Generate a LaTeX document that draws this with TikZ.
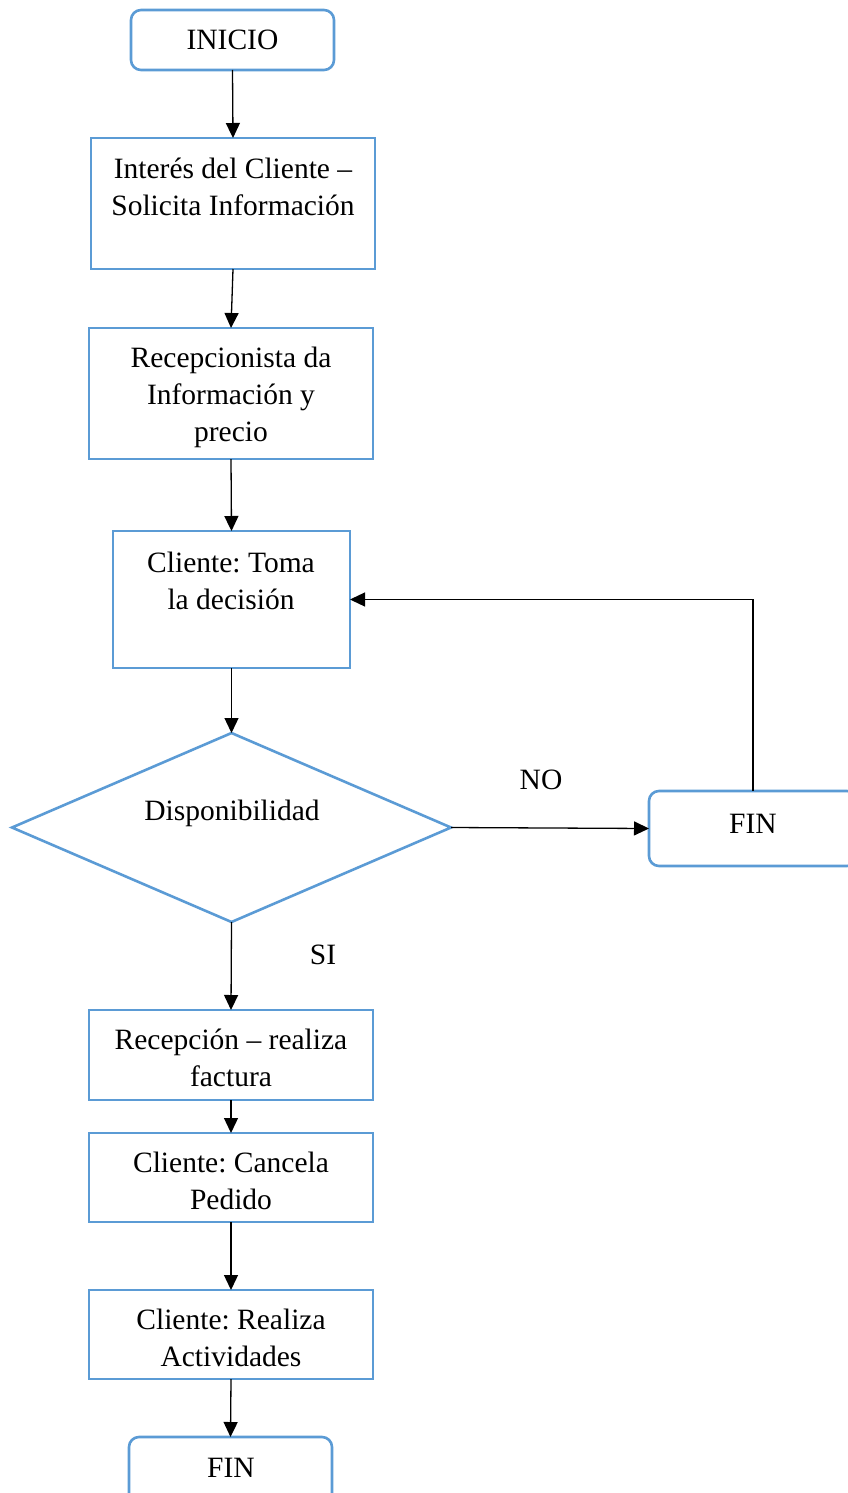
\documentclass[tikz,border=0pt]{standalone}
\usepackage{fontspec}
\setmainfont{Liberation Serif}
\usetikzlibrary{shapes.geometric,arrows.meta}
\definecolor{boxblue}{HTML}{5B9BD5}
\frenchspacing
\begin{document}
\begin{tikzpicture}[x=1pt,y=-1pt,
  every node/.style={inner sep=0pt, outer sep=0pt},
  stepbox/.style={draw=boxblue, line width=2.6pt, rectangle, fill=white},
  termbox/.style={stepbox, rounded corners=10pt},
  decbox/.style={draw=boxblue, line width=2.6pt, diamond, aspect=2.32},
  txt/.style={font=\fontsize{29.5pt}{37pt}\selectfont, align=center, anchor=north},
  arr/.style={line width=1.3pt, -{Triangle[length=15pt,width=14pt]}},
  lnk/.style={line width=1.3pt}]
\useasboundingbox (0,0) rectangle (848,1493);

% boxes
\node[termbox, minimum width=203pt, minimum height=60pt] (inicio) at (232.5,40) {};
\node[stepbox, minimum width=284pt, minimum height=131pt] (b2) at (233,203.5) {};
\node[stepbox, minimum width=284pt, minimum height=131pt] (b3) at (231,393.5) {};
\node[stepbox, minimum width=237pt, minimum height=137pt] (b4) at (231.5,599.5) {};
\node[decbox, minimum width=439pt, minimum height=189pt] (disp) at (231.5,827.5) {};
\node[termbox, minimum width=208pt, minimum height=75pt] (finr) at (753,828.5) {};
\node[stepbox, minimum width=284pt, minimum height=90pt] (b5) at (231,1055) {};
\node[stepbox, minimum width=284pt, minimum height=89pt] (b6) at (231,1177.5) {};
\node[stepbox, minimum width=284pt, minimum height=89pt] (b7) at (231,1334.5) {};
\node[termbox, minimum width=203pt, minimum height=80pt] (finb) at (230.5,1477) {};

% texts (first baseline minus strut height)
\node[txt] (t1) at (232.5,24.1) {\strut INICIO};
\node[txt] (t2) at (233,152.1) {\strut Interés del Cliente –\\Solicita Información};
\node[txt] (t3) at (231,341.1) {\strut Recepcionista da\\Información y\\precio};
\node[txt] (t4) at (231,546.1) {\strut Cliente: Toma\\la decisión};
\node[txt] (t5) at (232,794.1) {\strut Disponibilidad};
\node[txt] (t6) at (753,807.1) {\strut FIN};
\node[txt] (t7) at (541,763.1) {\strut NO};
\node[txt] (t8) at (323,938.1) {\strut SI};
\node[txt] (t9) at (231,1023.1) {\strut Recepción – realiza\\factura};
\node[txt] (t10) at (231,1146.1) {\strut Cliente: Cancela\\Pedido};
\node[txt] (t11) at (231,1303.1) {\strut Cliente: Realiza\\Actividades};
\node[txt] (t12) at (231,1451.1) {\strut FIN};

% connectors
\draw[arr] (inicio.south) -- (b2.north);
\draw[arr] (b2.south) -- (b3.north);
\draw[arr] (b3.south) -- (b4.north);
\draw[arr] (b4.south) -- (disp.north);
\draw[arr] (disp.east) -- (finr.west);
\draw[arr] (finr.north) |- (b4.east);
\draw[arr] (disp.south) -- (b5.north);
\draw[arr] (b5.south) -- (b6.north);
\draw[arr] (b6.south) -- (b7.north);
\draw[arr] (b7.south) -- (finb.north);
\end{tikzpicture}
\end{document}
